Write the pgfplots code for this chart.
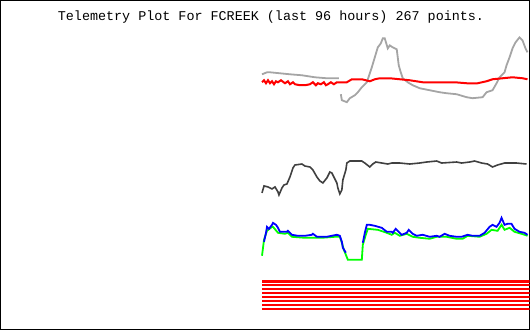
\documentclass[border=0pt]{standalone}
\usepackage{pgfplots}
\pgfplotsset{compat=1.18}
\usepackage{fontspec}
\setmonofont{Liberation Mono}
\definecolor{tgray}{RGB}{165,165,165}
\definecolor{tdark}{RGB}{64,64,64}
\begin{document}
\begin{tikzpicture}
\begin{axis}[
  scale only axis, width=529pt, height=329pt,
  xmin=0, xmax=530, ymin=0, ymax=330, y dir=reverse,
  xtick=\empty, ytick=\empty,
  axis line style={black, line width=1pt},
  clip=true,
]
% gray series
\addplot[tgray, line width=1.8pt] coordinates {
(262,74)(267,72)(270,72)(280,73)(290,74)(302,75)(315,77)(327,78)(339,78)};
\addplot[tgray, line width=1.8pt] coordinates {
(341,94)(342,100)(347,102)(350,98)(355,95)(358,92)(362,87)(367,82)(370,73)(372,67)(375,57)(378,47)(381,43)(383,38)(385,38)(388,48)(390,45)(393,47)(397,49)(398,57)(399,65)(401,72)(403,78)(408,82)(413,85)(420,88)(430,90)(440,92)(447,93)(457,94)(467,97)(473,98)(483,97)(487,92)(493,90)(497,83)(500,77)(505,72)(507,65)(510,57)(513,48)(516,42)(520,37)(523,40)(526,48)(528,52)};
% red series
\addplot[red, line width=2pt] coordinates {
(262,82)(264,80)(266,83)(268,80)(270,83)(272,81)(274,84)(276,81)(278,82)(281,80)(285,83)(288,81)(290,84)(293,82)(295,84)(300,85)(305,85)(310,84)(313,82)(316,85)(318,83)(321,84)(324,82)(326,85)(328,84)(331,82)(334,84)(337,82)(340,82)(347,82)(352,79)(362,79)(366,80)(370,81)(375,79)(380,78)(390,78)(400,79)(410,80)(423,82)(443,82)(455,82)(467,83)(478,83)(487,81)(493,79)(503,78)(513,77)(523,78)(528,79)};
% dark series
\addplot[tdark, line width=1.6pt] coordinates {
(262,193)(264,186)(268,187)(272,189)(275,187)(278,192)(279,195)(282,188)(284,185)(287,184)(290,177)(293,168)(295,165)(302,164)(305,166)(310,167)(313,170)(317,177)(320,181)(323,183)(327,178)(330,172)(332,173)(334,177)(337,183)(338,188)(340,194)(342,190)(343,180)(346,170)(347,163)(350,161)(362,161)(365,163)(370,167)(373,164)(376,162)(382,163)(388,164)(392,163)(400,163)(410,164)(420,163)(427,162)(437,161)(442,163)(457,162)(462,163)(470,162)(475,161)(482,163)(488,164)(493,167)(498,165)(505,163)(517,163)(527,164)};
% green series
\addplot[green, line width=1.8pt] coordinates {
(262,256)(263,248)(264,240)(267,231)(272,227)(273,227)(278,233)(285,234)(288,233)(292,237)(305,238)(322,238)(335,237)(340,237)(342,243)(344,250)(348,260)(362,260)(363,245)(366,235)(368,229)(378,230)(387,233)(392,235)(395,233)(400,236)(407,234)(413,237)(420,238)(430,239)(437,237)(447,237)(457,239)(463,239)(468,236)(480,237)(487,234)(492,230)(498,231)(502,225)(505,230)(510,228)(515,232)(522,234)(528,236)};
% blue series
\addplot[blue, line width=1.8pt] coordinates {
(264,242)(266,233)(267,227)(269,229)(272,225)(273,223)(276,225)(278,228)(280,232)(287,232)(288,231)(292,235)(298,236)(305,236)(312,235)(313,234)(317,237)(322,237)(327,237)(332,236)(337,235)(340,236)(342,242)(343,248)(346,253)};
\addplot[blue, line width=1.8pt] coordinates {
(363,243)(365,233)(367,225)(370,225)(375,226)(382,228)(387,232)(392,232)(393,233)(396,229)(398,231)(402,235)(407,233)(409,230)(413,234)(417,236)(423,235)(430,237)(437,236)(440,237)(445,234)(450,236)(457,237)(462,237)(468,235)(473,236)(480,236)(485,233)(490,227)(493,225)(497,227)(500,223)(502,218)(505,225)(508,224)(512,224)(515,229)(520,232)(525,233)(528,235)};
% red status bands
\addplot[red, line width=2.9pt] coordinates {(262,281.4)(530,281.4)};
\addplot[red, line width=2.9pt] coordinates {(262,285.4)(530,285.4)};
\addplot[red, line width=2.9pt] coordinates {(262,289.4)(530,289.4)};
\addplot[red, line width=2.9pt] coordinates {(262,293.4)(530,293.4)};
\addplot[red, line width=2.9pt] coordinates {(262,297.4)(530,297.4)};
\addplot[red, line width=2.9pt] coordinates {(262,301.4)(530,301.4)};
\addplot[red, line width=2.9pt] coordinates {(262,305.4)(530,305.4)};
\addplot[red, line width=2.9pt] coordinates {(262,309.4)(530,309.4)};
\node[font=\fontsize{13.4}{15}\selectfont\ttfamily, anchor=center] at (axis cs:271,17) {Telemetry Plot For FCREEK (last 96 hours) 267 points.};
\end{axis}
\end{tikzpicture}
\end{document}
